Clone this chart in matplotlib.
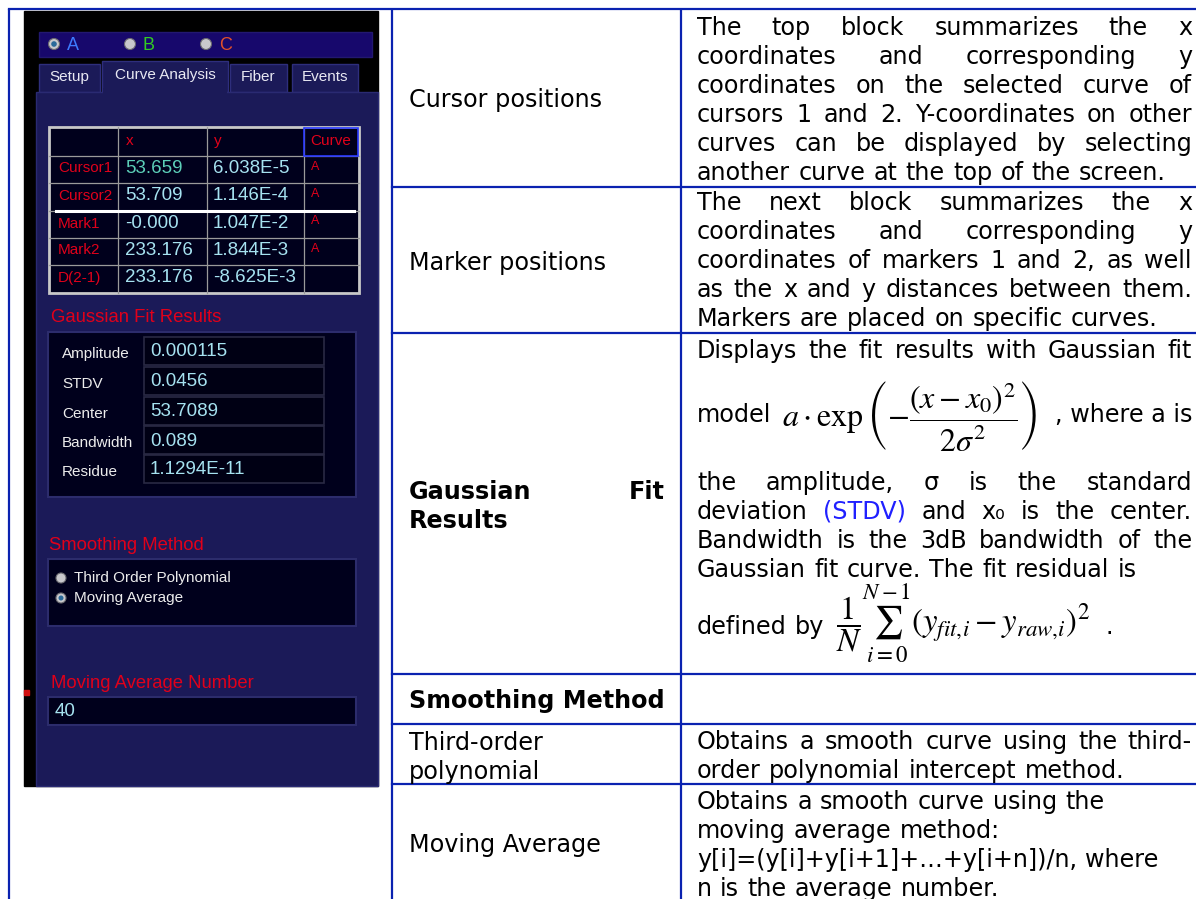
import matplotlib
matplotlib.use('Agg')
import matplotlib.pyplot as plt
from matplotlib.patches import Rectangle, Circle

plt.rcParams['mathtext.fontset'] = 'stix'

W, H = 1196, 899
BLUE = '#0a22b0'
RED = '#e0001a'
CYAN = '#a6e2f0'
PANEL_FONT = 'Liberation Sans'

# screenshot panel content
curves = ['A', 'B', 'C']
curve_colors = ['#3d7bff', '#33cc22', '#e0502a']
tabs = ['Setup', 'Curve Analysis', 'Fiber', 'Events']
table_cols = ['x', 'y', 'Curve']
row_names = ['Cursor1', 'Cursor2', 'Mark1', 'Mark2', 'D(2-1)']
x_vals = ['53.659', '53.709', '-0.000', '233.176', '233.176']
y_vals = ['6.038E-5', '1.146E-4', '1.047E-2', '1.844E-3', '-8.625E-3']
curve_vals = ['A', 'A', 'A', 'A', '']
fit_names = ['Amplitude', 'STDV', 'Center', 'Bandwidth', 'Residue']
fit_vals = ['0.000115', '0.0456', '53.7089', '0.089', '1.1294E-11']
smooth_opts = ['Third Order Polynomial', 'Moving Average']
avg_number = '40'

# document table
row_lines = [9, 187, 333, 674, 724, 784]
col_lines = [9, 392, 681]

cursor_desc = [('The top block summarizes the x', True),
               ('coordinates and corresponding y', True),
               ('coordinates on the selected curve of', True),
               ('cursors 1 and 2. Y-coordinates on other', True),
               ('curves can be displayed by selecting', True),
               ('another curve at the top of the screen.', False)]
marker_desc = [('The next block summarizes the x', True),
               ('coordinates and corresponding y', True),
               ('coordinates of markers 1 and 2, as well', True),
               ('as the x and y distances between them.', True),
               ('Markers are placed on specific curves.', False)]
gauss_desc = [('the amplitude, σ is the standard', True),
              ('deviation (STDV) and x₀ is the center.', True),
              ('Bandwidth is the 3dB bandwidth of the', True),
              ('Gaussian fit curve. The fit residual is', False)]
poly_desc = [('Obtains a smooth curve using the third-', True),
             ('order polynomial intercept method.', False)]
mavg_desc = [('Obtains a smooth curve using the', False),
             ('moving average method:', False),
             ('y[i]=(y[i]+y[i+1]+…+y[i+n])/n, where', False),
             ('n is the average number.', False)]

fig = plt.figure(figsize=(W / 100, H / 100), dpi=100)
ax = fig.add_axes([0, 0, 1, 1])
ax.set_xlim(0, W)
ax.set_ylim(H, 0)
ax.axis('off')
r = fig.canvas.get_renderer()

FS = 17.2


def put_line(parts, y, x0=697, x1=1192, justify=False, size=FS, weight='normal'):
    texts = [ax.text(0, y, w, fontsize=size, color=c, va='center', ha='left',
                     weight=weight, family='DejaVu Sans') for w, c in parts]
    widths = [t.get_window_extent(renderer=r).width for t in texts]
    if justify and len(parts) > 1:
        gap = (x1 - x0 - sum(widths)) / (len(parts) - 1)
    else:
        gap = size * 100 / 72 * 0.345
    x = x0
    for t, w in zip(texts, widths):
        t.set_x(x)
        x += w + gap


def para(lines, y0, step=29, **kw):
    for i, (s, j) in enumerate(lines):
        parts = []
        for w in s.split(' '):
            parts.append((w, '#2020ff' if w == '(STDV)' else 'black'))
        put_line(parts, y0 + i * step, justify=j, **kw)


# ---- document table lines
for x in col_lines:
    ax.plot([x, x], [9, H], color=BLUE, lw=1.6, solid_capstyle='butt')
ax.plot([9, W], [9, 9], color=BLUE, lw=1.6)
for y in row_lines[1:]:
    ax.plot([392, W], [y, y], color=BLUE, lw=1.6)

# ---- middle column
put_line([('Cursor positions', 'black')], 100, x0=409)
put_line([('Marker positions', 'black')], 263, x0=409)
put_line([('Gaussian', 'black'), ('Fit', 'black')], 492, x0=409, x1=665,
         justify=True, weight='bold')
put_line([('Results', 'black')], 521, x0=409, weight='bold')
put_line([('Smoothing Method', 'black')], 701, x0=409, weight='bold')
put_line([('Third-order', 'black')], 743, x0=409)
put_line([('polynomial', 'black')], 772, x0=409)
put_line([('Moving Average', 'black')], 845, x0=409)

# ---- right column
para(cursor_desc, 28)
para(marker_desc, 203)
para([('Displays the fit results with Gaussian fit', True)], 351)
put_line([('model', 'black')], 415)
ax.text(782, 416, r'$a\cdot\exp\left(-\dfrac{(x-x_0)^2}{2\sigma^2}\right)$',
        fontsize=23, va='center', ha='left')
ax.text(1192, 415, ', where a is', fontsize=FS, va='center', ha='right',
        family='DejaVu Sans')
para(gauss_desc, 483)
put_line([('defined', 'black'), ('by', 'black')], 627)
ax.text(836, 623, r'$\dfrac{1}{N}\sum_{i=0}^{N-1}(y_{fit,\!i}-y_{raw,\!i})^2$',
        fontsize=23.5, va='center', ha='left')
ax.text(1105, 627, '.', fontsize=FS, va='center', ha='left', family='DejaVu Sans')
para(poly_desc, 742)
para(mavg_desc, 802)

# ---- screenshot panel
ax.add_patch(Rectangle((24, 11), 354, 775, color='black', zorder=1))
ax.add_patch(Rectangle((24, 690), 5, 5, color='#d01010', zorder=2))
ax.add_patch(Rectangle((39, 32), 333, 25, fc='#17086c', ec='#221870', lw=1, zorder=2))
for i, (c, col) in enumerate(zip(curves, curve_colors)):
    cx = 54 + i * 76
    ax.add_patch(Circle((cx, 44), 5.5, fc='#c8c8cc', ec='#6a6a70', lw=0.8, zorder=3))
    if i == 0:
        ax.add_patch(Circle((cx, 44), 2.8, fc='#2a6a9a', ec='none', zorder=4))
    ax.text(cx + 13, 46, c, color=col, fontsize=13, va='center', ha='left',
            family=PANEL_FONT, zorder=4)

BODY = '#1b1a58'
tab_boxes = [(39, 64, 61, 28), (102, 61, 126, 31), (230, 64, 57, 28), (292, 64, 66, 28)]
for name, (tx, ty, tw, th) in zip(tabs, tab_boxes):
    ax.add_patch(Rectangle((tx, ty), tw, th, fc=BODY, ec='#2e2e7c', lw=1, zorder=2))
    ax.text(tx + tw / 2, ty + th / 2 - 1, name, color='#e8e8f2', fontsize=11,
            va='center', ha='center', family=PANEL_FONT, zorder=4)
ax.add_patch(Rectangle((36, 92), 342, 694, fc=BODY, ec='#2a2a72', lw=1, zorder=2))
ax.add_patch(Rectangle((103, 88), 124, 6, fc=BODY, ec='none', zorder=3))

# cursor table
DARK = '#00001c'
tx0, tx1, ty0, ty1 = 49, 359, 127, 293
ax.add_patch(Rectangle((tx0, ty0), tx1 - tx0, ty1 - ty0, fc=DARK, ec='#c8c8c8', lw=2, zorder=3))
col_x = [118, 207, 304]
row_y = [156, 183, 211, 238, 265]
for x in col_x:
    ax.plot([x, x], [ty0, ty1], color='#9a9a9a', lw=0.9, zorder=4)
for y in row_y:
    ax.plot([tx0, tx1], [y, y], color='#9a9a9a', lw=0.9, zorder=4)
ax.plot([56, 354], [211, 211], color='white', lw=2.2, zorder=5)
ax.add_patch(Rectangle((304, 128), 54, 28, fc='none', ec='#2838ff', lw=1.2, zorder=5))
for x, name in zip([126, 214, 310], table_cols):
    ax.text(x, 141, name, color=RED, fontsize=11, va='center', ha='left',
            family=PANEL_FONT, zorder=6)
for i in range(len(row_names)):
    cy = (row_y[i] + (row_y[i + 1] if i + 1 < len(row_y) else ty1)) / 2 - 1
    ax.text(58, cy, row_names[i], color=RED, fontsize=11, va='center', ha='left',
            family=PANEL_FONT, zorder=6)
    ax.text(125, cy, x_vals[i], color='#5ccfb8' if i == 0 else CYAN, fontsize=13.5,
            va='center', ha='left', family=PANEL_FONT, zorder=6)
    ax.text(213, cy, y_vals[i], color=CYAN, fontsize=13.5, va='center', ha='left',
            family=PANEL_FONT, zorder=6)
    ax.text(311, cy - 2, curve_vals[i], color=RED, fontsize=9, va='center', ha='left',
            family=PANEL_FONT, zorder=6)

# gaussian fit results
ax.text(51, 317, 'Gaussian Fit Results', color=RED, fontsize=13.3, va='center',
        ha='left', family=PANEL_FONT, zorder=6)
ax.add_patch(Rectangle((48, 332), 308, 165, fc=DARK, ec='#2c2c6c', lw=1.5, zorder=3))
field_tops = [337, 367, 397, 426, 455]
for i, (name, val) in enumerate(zip(fit_names, fit_vals)):
    ft = field_tops[i]
    ax.add_patch(Rectangle((144, ft), 180, 28, fc='#000014', ec='#2a2a44', lw=1.2, zorder=4))
    ax.text(62, ft + 17, name, color='#ececec', fontsize=11, va='center', ha='left',
            family=PANEL_FONT, zorder=6)
    ax.text(150, ft + 15, val, color=CYAN, fontsize=13.5, va='center', ha='left',
            family=PANEL_FONT, zorder=6)

# smoothing method
ax.text(49, 546, 'Smoothing Method', color=RED, fontsize=13.3, va='center',
        ha='left', family=PANEL_FONT, zorder=6)
ax.add_patch(Rectangle((48, 559), 308, 67, fc=DARK, ec='#2c2c6c', lw=1.5, zorder=3))
for i, opt in enumerate(smooth_opts):
    oy = 578 + i * 20
    ax.add_patch(Circle((61, oy), 5, fc='#c8c8cc', ec='#6a6a70', lw=0.8, zorder=5))
    if i == 1:
        ax.add_patch(Circle((61, oy), 2.5, fc='#2a6a9a', ec='none', zorder=6))
    ax.text(74, oy, opt, color='#ececec', fontsize=11, va='center', ha='left',
            family=PANEL_FONT, zorder=6)

# moving average number
ax.text(51, 683, 'Moving Average Number', color=RED, fontsize=13.3, va='center',
        ha='left', family=PANEL_FONT, zorder=6)
ax.add_patch(Rectangle((48, 697), 308, 28, fc=DARK, ec='#2c2c6c', lw=1.5, zorder=3))
ax.text(55, 712, avg_number, color=CYAN, fontsize=13.5, va='center', ha='left',
        family=PANEL_FONT, zorder=6)

fig.savefig('out.png', dpi=100)
